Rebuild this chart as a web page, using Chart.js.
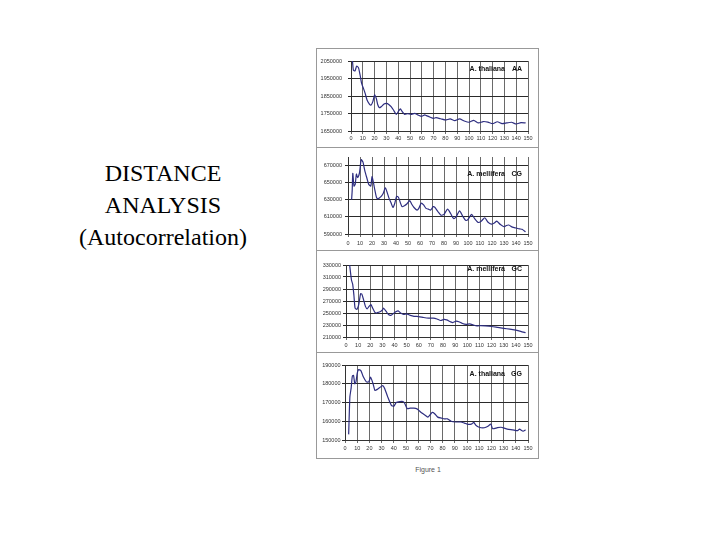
<!DOCTYPE html>
<html>
<head>
<meta charset="utf-8">
<script src="https://cdn.jsdelivr.net/npm/chart.js"></script>
<style>
  body { margin: 0; width: 720px; height: 540px; background: #fff; position: relative; overflow: hidden }
  .title { position: absolute; left: 63px; top: 157px; width: 200px; text-align: center;
    font-family: "Liberation Serif", "DejaVu Serif", "Times New Roman", serif;
    font-size: 24px; line-height: 32px; color: #000 }
  .frame { position: absolute; border: 1px solid #999; box-sizing: border-box; pointer-events: none }
  canvas { position: absolute }
  .caption { position: absolute; left: 398px; top: 466px; width: 60px; text-align: center;
    font-family: "Liberation Sans", Arial, sans-serif; font-size: 7px; color: #555 }
</style>
</head>
<body>
<div class="title">DISTANCE<br>ANALYSIS<br>(Autocorrelation)</div>
<div class="caption">Figure 1</div>
<script>
// A. thaliana AA
const xAA = [1, 2, 3.4, 4.8, 6.3, 7.7, 9, 10.5, 12, 13.6, 15.6, 17, 18.5, 20, 21.4, 22.7, 24, 25.6, 28, 30, 32, 34, 36, 38.4, 40.3, 41.8, 43.5, 45.5, 48, 51, 54, 57, 60, 62.5, 64, 66.7, 70, 72, 76, 80, 84, 88, 92, 96, 100, 104, 108, 112, 116, 120, 124, 128, 132, 136, 140, 144, 148]
const yAA = [2075000, 1998000, 1993000, 2021000, 2012000, 1970000, 1922000, 1894000, 1865000, 1827000, 1804000, 1798000, 1818000, 1856000, 1837000, 1800000, 1783000, 1789000, 1804000, 1808000, 1802000, 1789000, 1770000, 1745000, 1764000, 1776000, 1760000, 1745000, 1749000, 1745000, 1751000, 1741000, 1734000, 1742000, 1738000, 1730000, 1722000, 1726000, 1720000, 1713000, 1719000, 1709000, 1719000, 1707000, 1700000, 1711000, 1696000, 1704000, 1701000, 1692000, 1703000, 1692000, 1696000, 1700000, 1690000, 1698000, 1696000]
const ticksAA = [1650000, 1750000, 1850000, 1950000, 2050000]

// A. mellifera CG
const xCG = [3, 3.5, 4, 5, 6, 7, 8, 9.5, 10.3, 11, 12.5, 14, 15.6, 17.3, 19, 20, 21.2, 22.3, 23.7, 25, 26.5, 28, 29.5, 31, 32.3, 34, 35.7, 37.5, 39, 40.5, 42, 43.5, 45, 47, 49, 51.5, 53, 55, 57.5, 59, 61, 63, 65, 67, 69, 71, 72.5, 75, 77.5, 80, 83, 85.5, 88, 90, 93, 95.5, 98, 100, 103, 105.5, 108.5, 111, 114, 116.5, 119.5, 122, 124, 127, 130, 132, 134, 137, 140, 143, 145, 148]
const yCG = [630000, 641000, 661000, 646000, 648000, 660000, 656000, 661000, 670000, 677000, 674000, 664000, 656000, 648000, 646000, 657000, 650000, 642000, 633000, 631000, 632500, 634500, 638000, 644000, 640000, 632500, 627000, 621000, 626000, 634000, 633000, 627000, 622000, 623000, 625000, 629000, 625000, 621000, 618000, 620000, 626000, 624000, 620000, 619000, 618000, 622000, 621000, 616000, 612000, 613000, 619000, 614000, 608000, 610000, 617000, 611000, 606000, 607000, 613000, 608000, 603500, 605000, 609000, 604000, 601500, 603000, 605000, 601000, 598500, 600000, 600500, 598000, 597000, 596000, 595500, 592500]
const ticksCG = [590000, 610000, 630000, 650000, 670000]

// A. mellifera GC
const xGC = [3, 4.5, 5.5, 6.5, 7.5, 9, 10.5, 12, 13, 14.5, 16, 17.5, 19, 20.5, 22, 23.5, 25, 26.5, 28, 30, 31, 33, 35, 37, 39, 41, 43, 45, 47.5, 50, 53, 56, 60, 64, 68, 72, 75, 78, 81, 83, 86, 88, 91, 93, 96, 99, 102, 105, 108, 111, 115, 120, 125, 130, 135, 140, 144, 148]
const yGC = [330000, 305000, 298000, 280000, 258000, 256000, 264000, 282000, 281500, 272000, 261000, 257000, 261000, 264000, 258000, 252000, 250000, 251000, 252000, 255000, 258000, 253000, 247500, 246000, 249000, 252000, 253500, 250000, 247500, 248500, 246000, 244500, 244000, 242500, 241500, 241500, 240000, 237500, 239500, 238500, 235500, 234000, 236500, 235500, 232500, 231000, 232000, 230000, 228500, 229000, 228500, 227500, 226000, 224500, 223000, 221500, 219500, 217000]
const ticksGC = [210000, 230000, 250000, 270000, 290000, 310000, 330000]

// A. thaliana GG
const xGG = [3, 4, 5, 6, 7, 8, 9, 10, 11, 13, 15, 17.5, 19.5, 21, 23, 24.5, 26.5, 28.5, 31, 32.5, 35, 38, 40, 42, 45, 47.5, 49, 51, 53.5, 56.5, 59, 60.5, 63, 66, 68, 70, 71.5, 73.5, 76, 79, 81.5, 84, 87, 91, 95, 98, 101, 104, 105.5, 107.5, 110, 113, 115.5, 117.5, 119.5, 121, 125, 128, 130.5, 133, 137.5, 141.5, 143, 146, 148]
const yGG = [153000, 173000, 177500, 184000, 184500, 180000, 181000, 185500, 187500, 187000, 183700, 181000, 181000, 183500, 180000, 176500, 177000, 178000, 179000, 177500, 173000, 168500, 168000, 170000, 170500, 170500, 169500, 166700, 167000, 167000, 166600, 165800, 164400, 163100, 162200, 163600, 164700, 164000, 162200, 161700, 161300, 161300, 160000, 159600, 159600, 159000, 158300, 158600, 159400, 157700, 156800, 156500, 156800, 157500, 158500, 156000, 156600, 156800, 156300, 155800, 155400, 155000, 155800, 154700, 155400]
const ticksGG = [150000, 160000, 170000, 180000, 190000]

const FIG_LEFT = 316, FIG_RIGHT = 540

const panels = [
  {top: 48, h: 99, left: 351, right: 528, pTop: 61, pBot: 131, yPad: 6, xPad: 1.5, tagY: 8,
    xs: xAA, ys: yAA, yTicks: ticksAA, min: 1650000, max: 2050000, species: 'A. thaliana', code: 'AA'},
  {top: 147, h: 103, left: 348, right: 528, pTop: 157, pBot: 234, yPad: 3, xPad: 3, tagY: 17,
    xs: xCG, ys: yCG, yTicks: ticksCG, min: 590000, max: 680000, species: 'A. mellifera', code: 'CG'},
  {top: 250, h: 102, left: 346, right: 528, pTop: 265, pBot: 337, yPad: 2, xPad: 2, tagY: 4.5,
    xs: xGC, ys: yGC, yTicks: ticksGC, min: 210000, max: 330000, species: 'A. mellifera', code: 'GC'},
  {top: 352, h: 106, left: 345, right: 528, pTop: 365, pBot: 440, yPad: 1.5, xPad: 2.5, tagY: 9.5,
    xs: xGG, ys: yGG, yTicks: ticksGG, min: 150000, max: 190000, species: 'A. thaliana', code: 'GG'}
]

function makePanel(p) {
  const cv = document.createElement('canvas')
  cv.width = FIG_RIGHT - FIG_LEFT
  cv.height = p.h
  cv.style.left = FIG_LEFT + 'px'
  cv.style.top = p.top + 'px'
  document.body.appendChild(cv)

  const fr = document.createElement('div')
  fr.className = 'frame'
  fr.style.cssText = `left:${FIG_LEFT}px;top:${p.top}px;width:${FIG_RIGHT - FIG_LEFT - 1}px;height:${p.h + 1}px`
  document.body.appendChild(fr)

  const tickFont = {family: '"Liberation Sans", Arial, sans-serif', size: 5.5}
  const tag = {
    id: 'tag',
    afterDraw(c) {
      const ctx = c.ctx, a = c.chartArea
      ctx.save()
      ctx.font = 'bold 7px "Liberation Sans", Arial, sans-serif'
      ctx.fillStyle = '#111'
      ctx.textAlign = 'right'
      ctx.textBaseline = 'middle'
      ctx.fillText(p.species, a.right - 23, a.top + p.tagY)
      ctx.fillText(p.code, a.right - 6, a.top + p.tagY)
      ctx.restore()
    }
  }

  new Chart(cv.getContext('2d'), {
    type: 'line',
    data: {
      datasets: [{
        data: p.xs.map((x, i) => ({x, y: p.ys[i]})),
        borderColor: '#2e2e80',
        borderWidth: 1.2,
        pointRadius: 0,
        tension: 0.2,
        fill: false
      }]
    },
    options: {
      responsive: false,
      animation: false,
      devicePixelRatio: 1,
      layout: {padding: {left: 0, right: FIG_RIGHT - p.right, top: p.pTop - p.top, bottom: 0}},
      plugins: {legend: {display: false}, tooltip: {enabled: false}},
      scales: {
        x: {
          type: 'linear', min: 0, max: 150,
          afterFit: s => { s.height = p.top + p.h - p.pBot },
          ticks: {stepSize: 10, autoSkip: false, maxRotation: 0, font: tickFont, color: '#333', padding: p.xPad},
          grid: {color: '#6a6a6a', lineWidth: 1, tickLength: 3},
          border: {color: '#333'}
        },
        y: {
          min: p.min, max: p.max,
          afterFit: s => { s.width = p.left - FIG_LEFT },
          afterBuildTicks: s => { s.ticks = p.yTicks.map(v => ({value: v})) },
          ticks: {font: tickFont, color: '#333', padding: p.yPad, callback: v => String(v)},
          grid: {color: '#2a2a2a', lineWidth: 1, tickLength: 3},
          border: {color: '#333'}
        }
      }
    },
    plugins: [tag]
  })
}

panels.forEach(makePanel)
</script>
</body>
</html>
